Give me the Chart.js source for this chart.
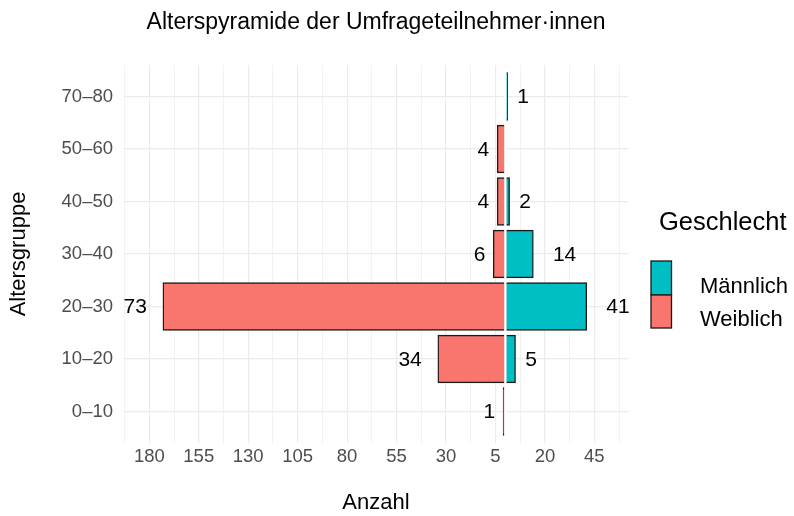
<!DOCTYPE html>
<html lang="de">
<head>
<meta charset="UTF-8">
<title>Alterspyramide</title>
<script src="https://cdn.jsdelivr.net/npm/chart.js"></script>
<style>
  body { margin: 0; background: #fff; }
  #wrap { width: 794px; height: 516px; }
</style>
</head>
<body>
<div id="wrap"><canvas id="chart"></canvas></div>
<script>
// Altersgruppen von unten nach oben
const ageGroups = ['0–10', '10–20', '20–30', '30–40', '40–50', '50–60', '70–80'];
// Balkenlängen (Weiblich nach links)
const femaleBars = [1, 34, 173, 6, 4, 4, null];
const femaleLabels = ['1', '34', '73', '6', '4', '4', null];
const maleBars = [null, 5, 41, 14, 2, null, 1];
const maleLabels = [null, '5', '41', '14', '2', null, '1'];
const xTicks = [-180, -155, -130, -105, -80, -55, -30, -5, 20, 45];

const FONT = '"Liberation Sans", Arial, Helvetica, sans-serif';
Chart.defaults.font.family = FONT;

const colors = { Weiblich: '#F8766D', Männlich: '#00BFC4' };

function toBars(values, labels, sign) {
    const data = [], texts = [];
    values.forEach((v, i) => {
        if (v !== null) {
            data.push({ x: sign * v, y: i });
            texts.push(labels[i]);
        }
    });
    return { data, texts };
}

const female = toBars(femaleBars, femaleLabels, -1);
const male = toBars(maleBars, maleLabels, 1);

// minor grid lines halfway between the labelled ticks
const gridTicks = [];
xTicks.forEach(v => { gridTicks.push(v - 12.5); gridTicks.push(v); });
gridTicks.push(xTicks[xTicks.length - 1] + 12.5);

const decor = {
    id: 'decor',
    afterDatasetsDraw(chart) {
        const { ctx, chartArea: a, scales: { x } } = chart;
        const x0 = x.getPixelForValue(0);
        ctx.save();
        ctx.strokeStyle = '#fff';
        ctx.lineWidth = 2.4;
        ctx.beginPath();
        ctx.moveTo(x0, a.top);
        ctx.lineTo(x0, a.bottom);
        ctx.stroke();

        ctx.font = '21px ' + FONT;
        ctx.fillStyle = '#000';
        ctx.textBaseline = 'middle';
        chart.data.datasets.forEach((ds, d) => {
            chart.getDatasetMeta(d).data.forEach((bar, j) => {
                const text = ds.valueLabels[j];
                const w = ctx.measureText(text).width;
                if (ds.side < 0) {
                    ctx.textAlign = 'right';
                    ctx.fillText(text, bar.x - 0.7 * w, bar.y + 1);
                } else {
                    ctx.textAlign = 'left';
                    ctx.fillText(text, bar.x + 0.85 * w, bar.y + 1);
                }
            });
        });
        ctx.restore();
    },
    afterDraw(chart) {
        const { ctx, chartArea: a } = chart;
        ctx.save();
        ctx.fillStyle = '#000';

        // title
        ctx.font = '23px ' + FONT;
        ctx.textAlign = 'center';
        ctx.textBaseline = 'alphabetic';
        ctx.fillText('Alterspyramide der Umfrageteilnehmer·innen', (a.left + a.right) / 2, 29);

        // axis titles
        ctx.font = '22px ' + FONT;
        ctx.textBaseline = 'middle';
        ctx.fillText('Anzahl', (a.left + a.right) / 2, 503);
        ctx.save();
        ctx.translate(19, (a.top + a.bottom) / 2);
        ctx.rotate(-Math.PI / 2);
        ctx.fillText('Altersgruppe', 0, 0);
        ctx.restore();

        // legend
        ctx.textAlign = 'left';
        ctx.textBaseline = 'alphabetic';
        ctx.font = '25.5px ' + FONT;
        ctx.fillText('Geschlecht', 659, 230);
        ctx.lineWidth = 1.3;
        ctx.strokeStyle = '#1a1a1a';
        ctx.fillStyle = colors['Männlich'];
        ctx.fillRect(651, 261, 20.5, 34);
        ctx.strokeRect(651, 261, 20.5, 34);
        ctx.fillStyle = colors['Weiblich'];
        ctx.fillRect(651, 295, 20.5, 33);
        ctx.strokeRect(651, 295, 20.5, 33);
        ctx.fillStyle = '#000';
        ctx.font = '22px ' + FONT;
        ctx.fillText('Männlich', 700, 293);
        ctx.fillText('Weiblich', 700, 325.5);
        ctx.restore();
    }
};

const barStyle = {
    borderColor: '#1a1a1a',
    borderWidth: 1.4,
    borderSkipped: false,
    inflateAmount: 0.6,
    grouped: false,
    categoryPercentage: 0.9,
    barPercentage: 1
};

new Chart(document.getElementById('chart'), {
    type: 'bar',
    data: {
        datasets: [
            Object.assign({
                label: 'Weiblich',
                data: female.data,
                valueLabels: female.texts,
                side: -1,
                backgroundColor: colors['Weiblich']
            }, barStyle),
            Object.assign({
                label: 'Männlich',
                data: male.data,
                valueLabels: male.texts,
                side: 1,
                backgroundColor: colors['Männlich']
            }, barStyle)
        ]
    },
    options: {
        indexAxis: 'y',
        responsive: true,
        maintainAspectRatio: false,
        animation: false,
        layout: { padding: { left: 0, right: 166, top: 65, bottom: 0 } },
        plugins: {
            legend: { display: false },
            tooltip: { enabled: false },
            title: { display: false }
        },
        scales: {
            x: {
                type: 'linear',
                min: -192.8,
                max: 62,
                afterBuildTicks: (s) => { s.ticks = gridTicks.map(v => ({ value: v })); },
                afterFit: (s) => { s.height = 73; },
                ticks: {
                    autoSkip: false,
                    maxRotation: 0,
                    padding: 3,
                    color: '#4D4D4D',
                    font: { size: 18.5 },
                    callback: (v) => xTicks.includes(v) ? String(Math.abs(v)) : ''
                },
                grid: {
                    drawTicks: false,
                    color: (c) => c.tick && xTicks.includes(c.tick.value) ? '#EBEBEB' : '#F2F2F2',
                    lineWidth: (c) => c.tick && xTicks.includes(c.tick.value) ? 1.2 : 1
                },
                border: { display: false }
            },
            y: {
                type: 'linear',
                offset: false,
                min: -0.6,
                max: ageGroups.length - 0.4,
                afterBuildTicks: (s) => { s.ticks = ageGroups.map((_, i) => ({ value: i })); },
                afterFit: (s) => { s.width = 124; },
                ticks: {
                    autoSkip: false,
                    padding: 11,
                    color: '#4D4D4D',
                    font: { size: 18.5 },
                    callback: (v) => ageGroups[v]
                },
                grid: { offset: false, drawTicks: false, color: '#EBEBEB', lineWidth: 1.2 },
                border: { display: false }
            }
        }
    },
    plugins: [decor]
});
</script>
</body>
</html>
